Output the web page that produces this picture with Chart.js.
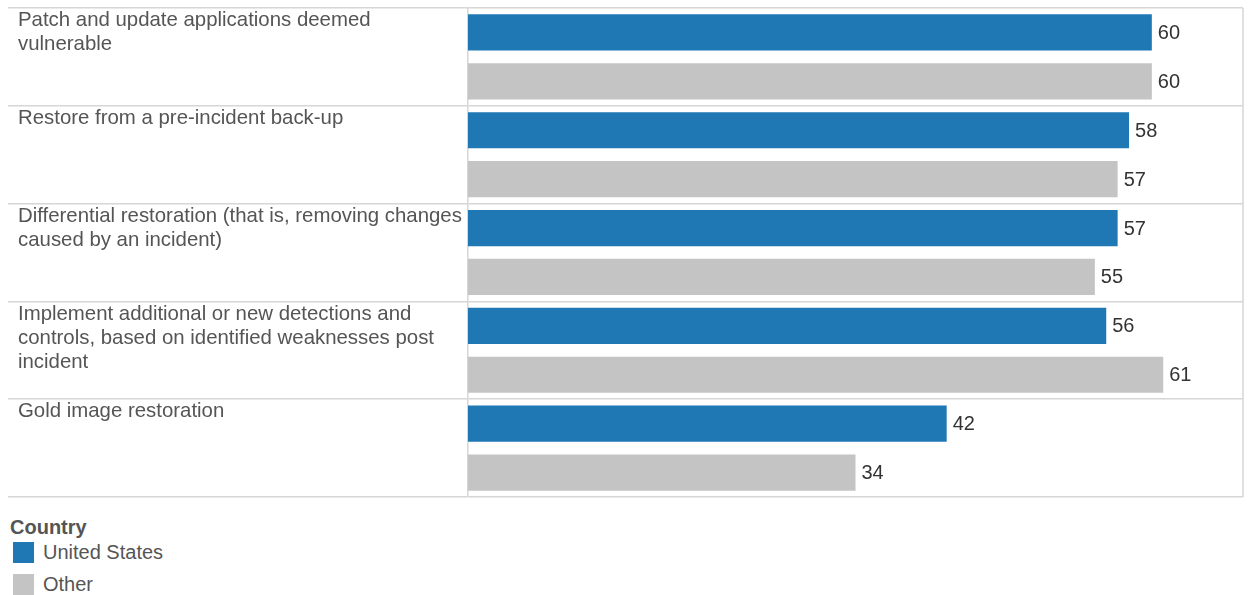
<!DOCTYPE html>
<html>
<head>
<meta charset="utf-8">
<script src="https://cdn.jsdelivr.net/npm/chart.js@4"></script>
<style>
  html, body { margin: 0; padding: 0; background: #fff; }
  body { width: 1248px; height: 595px; overflow: hidden; position: relative;
         font-family: Arial, "Liberation Sans", sans-serif; }
  #wrap { position: absolute; left: 0; top: 0; width: 1248px; height: 500px; }
  #legend { position: absolute; left: 10px; top: 513px; color: #555; font-size: 20px; }
  #legend .title { font-weight: bold; height: 28px; line-height: 28px; }
  #legend .item { position: relative; height: 32px; line-height: 22px; padding-left: 33px; }
  #legend .sw { position: absolute; left: 3px; top: 1px; width: 21px; height: 21px; }
</style>
</head>
<body>
<div id="wrap"><canvas id="c" width="1248" height="500"></canvas></div>
<div id="legend"></div>
<script>
// Recovery actions, each wrapped onto the lines shown beside its band
const categories = [
  ["Patch and update applications deemed", "vulnerable"],
  ["Restore from a pre-incident back-up"],
  ["Differential restoration (that is, removing changes", "caused by an incident)"],
  ["Implement additional or new detections and", "controls, based on identified weaknesses post", "incident"],
  ["Gold image restoration"]
];
const seriesNames = ["United States", "Other"];
const unitedStates = [60, 58, 57, 56, 42];
const other = [60, 57, 55, 61, 34];
const seriesColors = ["#1f77b4", "#c4c4c4"];

const FONT = 'Arial, "Liberation Sans", sans-serif';
const LINE = "#d6d6d6";

// Category text in the top-left corner of each band
const bandLabels = {
  id: "bandLabels",
  afterDraw(chart) {
    const y = chart.scales.y;
    const ctx = chart.ctx;
    const band = y.height / categories.length;
    ctx.save();
    ctx.font = "20.4px " + FONT;
    ctx.fillStyle = "#555";
    ctx.textAlign = "left";
    ctx.textBaseline = "middle";
    categories.forEach((lines, i) => {
      const top = y.getPixelForValue(i) - band / 2;
      lines.forEach((t, k) => ctx.fillText(t, 18, top + 12.5 + k * 24));
    });
    ctx.restore();
  }
};

// Value printed just past the end of every bar, plus the right frame edge
const valueLabels = {
  id: "valueLabels",
  afterDatasetsDraw(chart) {
    const ctx = chart.ctx;
    ctx.save();
    ctx.font = "20px " + FONT;
    ctx.fillStyle = "#333";
    ctx.textAlign = "left";
    ctx.textBaseline = "middle";
    chart.data.datasets.forEach((ds, di) => {
      chart.getDatasetMeta(di).data.forEach((el, i) => {
        ctx.fillText(String(ds.data[i]), el.x + 6, el.y + 1);
      });
    });
    const a = chart.chartArea;
    ctx.strokeStyle = LINE;
    ctx.lineWidth = 1.5;
    ctx.beginPath();
    ctx.moveTo(a.right, a.top);
    ctx.lineTo(a.right, a.bottom);
    ctx.stroke();
    ctx.restore();
  }
};

const chart = new Chart(document.getElementById("c"), {
  type: "bar",
  data: {
    labels: categories,
    datasets: [
      { label: seriesNames[0], data: unitedStates, backgroundColor: seriesColors[0] },
      { label: seriesNames[1], data: other, backgroundColor: seriesColors[1] }
    ]
  },
  options: {
    indexAxis: "y",
    responsive: false,
    animation: false,
    events: [],
    categoryPercentage: 1.0,
    barPercentage: 0.74,
    layout: { padding: { top: 8, left: 8, right: 5, bottom: 3 } },
    scales: {
      x: { display: false, min: 0, max: 68 },
      y: {
        ticks: { display: false },
        grid: {
          offset: true,
          color: LINE,
          lineWidth: 1.5,
          drawTicks: true,
          tickLength: 460,
          tickColor: LINE,
          tickWidth: 1.5
        },
        border: { display: true, color: LINE, width: 1.5 }
      }
    },
    plugins: { legend: { display: false }, tooltip: { enabled: false } }
  },
  plugins: [bandLabels, valueLabels]
});

// Legend built from the dataset names and colours
const lg = document.getElementById("legend");
lg.innerHTML = '<div class="title">Country</div>' + chart.data.datasets.map(d =>
  '<div class="item"><span class="sw" style="background:' + d.backgroundColor + '"></span>' + d.label + '</div>'
).join("");
</script>
</body>
</html>
